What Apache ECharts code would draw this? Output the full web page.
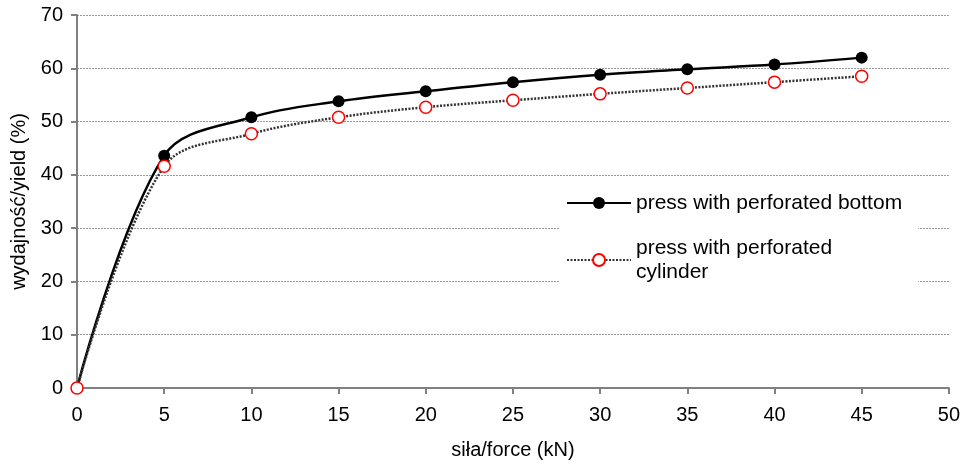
<!DOCTYPE html>
<html>
<head>
<meta charset="utf-8">
<script src="https://cdn.jsdelivr.net/npm/echarts@6/dist/echarts.min.js"></script>
<style>
html,body{margin:0;padding:0;background:#fff;}
#chart{width:963px;height:466px;}
</style>
</head>
<body>
<div id="chart"></div>
<script>
const forceKN = [0, 5, 10, 15, 20, 25, 30, 35, 40, 45];
const yieldBottom = [0, 43.6, 50.8, 53.8, 55.7, 57.4, 58.8, 59.8, 60.7, 62.0];
const yieldCylinder = [0, 41.6, 47.7, 50.8, 52.7, 54.0, 55.2, 56.3, 57.4, 58.5];
const seriesNames = ['press with perforated bottom', 'press with perforated cylinder'];
const xAxisName = 'siła/force (kN)';
const yAxisName = 'wydajność/yield (%)';

const FONT = 'Arial, "Liberation Sans", sans-serif';
const chart = echarts.init(document.getElementById('chart'), null, {renderer: 'canvas'});
chart.setOption({
  animation: false,
  backgroundColor: '#fff',
  grid: {left: 77, right: 13, top: 15, bottom: 78, containLabel: false},
  xAxis: {
    type: 'value', min: 0, max: 50, interval: 5,
    name: xAxisName, nameLocation: 'middle', nameGap: 52,
    nameTextStyle: {fontFamily: FONT, fontSize: 20, color: '#000'},
    axisLine: {lineStyle: {color: '#808080', width: 2}},
    axisTick: {show: true, length: 6, lineStyle: {color: '#808080', width: 2}},
    axisLabel: {fontFamily: FONT, fontSize: 20, color: '#000', margin: 17},
    splitLine: {show: false}
  },
  yAxis: {
    type: 'value', min: 0, max: 70, interval: 10,
    name: yAxisName, nameLocation: 'middle', nameGap: 48,
    nameTextStyle: {fontFamily: FONT, fontSize: 20, color: '#000'},
    axisLine: {show: true, lineStyle: {color: '#808080', width: 2}},
    axisTick: {show: true, length: 6, lineStyle: {color: '#808080', width: 2}},
    axisLabel: {fontFamily: FONT, fontSize: 20, color: '#000', margin: 14},
    splitLine: {show: true, lineStyle: {color: '#999', width: 1, type: [2, 1]}}
  },
  legend: {
    orient: 'vertical', left: 560, top: 179,
    padding: [12, 6, 12, 6], itemGap: 9,
    itemWidth: 64, itemHeight: 15,
    backgroundColor: '#fff',
    textStyle: {fontFamily: FONT, fontSize: 21, color: '#000', lineHeight: 24, padding: [0, 10, 0, 0]},
    data: [
      {name: seriesNames[0]},
      {name: seriesNames[1], textStyle: {padding: [24, 10, 0, 0]}}
    ],
    formatter: function (n) {
      return n === seriesNames[1] ? 'press with perforated\ncylinder' : n;
    }
  },
  series: [
    {
      name: seriesNames[0], type: 'line', smooth: 0.35,
      data: forceKN.map((x, i) => [x, yieldBottom[i]]),
      symbol: 'circle', symbolSize: 12,
      itemStyle: {color: '#000', borderColor: '#000', borderWidth: 0},
      lineStyle: {color: '#000', width: 2.5}
    },
    {
      name: seriesNames[1], type: 'line', smooth: 0.35,
      data: forceKN.map((x, i) => [x, yieldCylinder[i]]),
      symbol: 'circle', symbolSize: 12,
      itemStyle: {color: '#fff', borderColor: '#ff0000', borderWidth: 1.5},
      lineStyle: {color: '#333', width: 2.5, type: [2, 1.5]}
    }
  ]
});
</script>
</body>
</html>
